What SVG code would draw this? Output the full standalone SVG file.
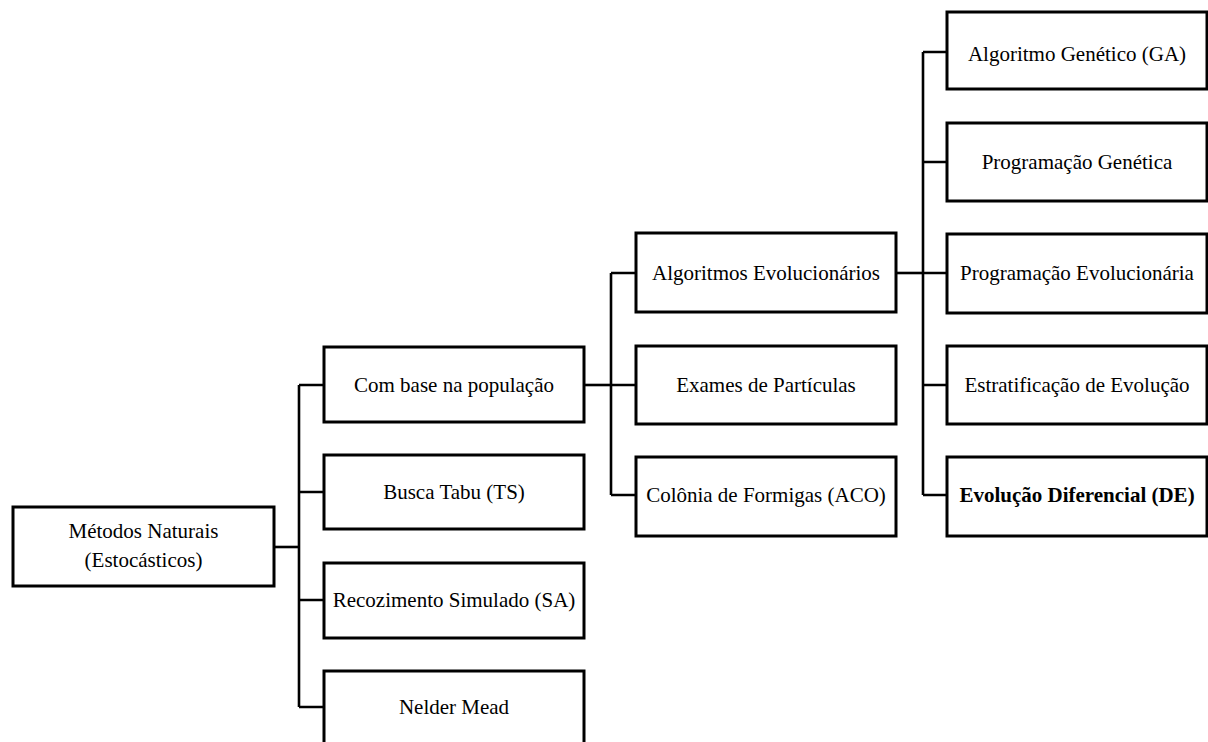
<svg xmlns="http://www.w3.org/2000/svg" width="1208" height="742" viewBox="0 0 1208 742">
  <style>
    .box { fill: #ffffff; stroke: #000000; stroke-width: 3; }
    .lbl { font-family: "Liberation Serif", "Times New Roman", serif; font-size: 21px; fill: #000000; text-anchor: middle; }
    .bold { font-weight: bold; }
    .wire { fill: none; stroke: #000000; stroke-width: 2.6; stroke-linejoin: miter; stroke-linecap: butt; }
  </style>
  <rect x="0" y="0" width="1208" height="742" fill="#ffffff"/>

  <!-- connectors -->
  <g id="connectors" class="wire">
    <!-- root to second level -->
    <path d="M274 547 H299"/>
    <path d="M299 385 V707"/>
    <path d="M299 385 H324 M299 492 H324 M299 600 H324 M299 707 H324"/>
    <!-- population-based to third level -->
    <path d="M584 385 H611"/>
    <path d="M611 273 V495"/>
    <path d="M611 273 H636 M611 385 H636 M611 495 H636"/>
    <!-- evolutionary algorithms to fourth level -->
    <path d="M896 273 H923"/>
    <path d="M923 52 V495"/>
    <path d="M923 52 H947 M923 162 H947 M923 273 H947 M923 385 H947 M923 495 H947"/>
  </g>

  <!-- root -->
  <g id="metodos-naturais">
    <rect class="box" x="13" y="507" width="261" height="79"/>
    <text class="lbl" x="143.5" y="538">Métodos Naturais</text>
    <text class="lbl" x="143.5" y="567">(Estocásticos)</text>
  </g>

  <!-- second level -->
  <g id="com-base-populacao">
    <rect class="box" x="324" y="347" width="260" height="75"/>
    <text class="lbl" x="454" y="392">Com base na população</text>
  </g>
  <g id="busca-tabu">
    <rect class="box" x="324" y="455" width="260" height="74"/>
    <text class="lbl" x="454" y="499">Busca Tabu (TS)</text>
  </g>
  <g id="recozimento-simulado">
    <rect class="box" x="324" y="563" width="260" height="75"/>
    <text class="lbl" x="454" y="607">Recozimento Simulado (SA)</text>
  </g>
  <g id="nelder-mead">
    <rect class="box" x="324" y="671" width="260" height="78"/>
    <text class="lbl" x="454" y="714">Nelder Mead</text>
  </g>

  <!-- third level -->
  <g id="algoritmos-evolucionarios">
    <rect class="box" x="636" y="233" width="260" height="79"/>
    <text class="lbl" x="766" y="280">Algoritmos Evolucionários</text>
  </g>
  <g id="exames-particulas">
    <rect class="box" x="636" y="346" width="260" height="78"/>
    <text class="lbl" x="766" y="392">Exames de Partículas</text>
  </g>
  <g id="colonia-formigas">
    <rect class="box" x="636" y="457" width="260" height="79"/>
    <text class="lbl" x="766" y="502">Colônia de Formigas (ACO)</text>
  </g>

  <!-- fourth level -->
  <g id="algoritmo-genetico">
    <rect class="box" x="947" y="12" width="260" height="77"/>
    <text class="lbl" x="1077" y="61">Algoritmo Genético (GA)</text>
  </g>
  <g id="programacao-genetica">
    <rect class="box" x="947" y="123" width="260" height="78"/>
    <text class="lbl" x="1077" y="169">Programação Genética</text>
  </g>
  <g id="programacao-evolucionaria">
    <rect class="box" x="947" y="234" width="260" height="79"/>
    <text class="lbl" x="1077" y="280">Programação Evolucionária</text>
  </g>
  <g id="estratificacao-evolucao">
    <rect class="box" x="947" y="346" width="260" height="78"/>
    <text class="lbl" x="1077" y="392">Estratificação de Evolução</text>
  </g>
  <g id="evolucao-diferencial">
    <rect class="box" x="947" y="457" width="260" height="79"/>
    <text class="lbl bold" x="1077" y="502">Evolução Diferencial (DE)</text>
  </g>
</svg>
